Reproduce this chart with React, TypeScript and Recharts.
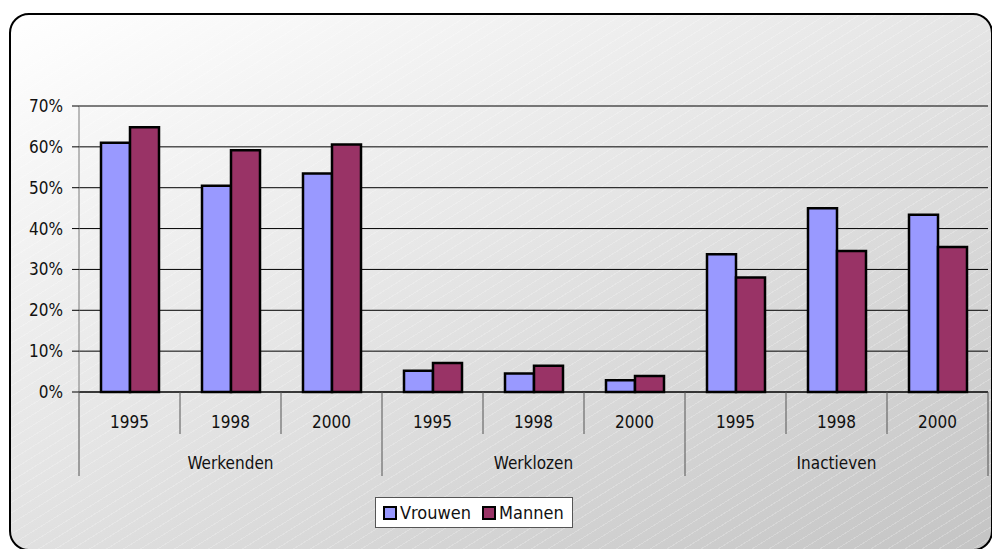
import { BarChart, Bar, XAxis, YAxis, CartesianGrid, Legend } from "recharts";

const groups = ["Werkenden", "Werklozen", "Inactieven"];
const years = ["1995", "1998", "2000"];
const vrouwen = [61.0, 50.5, 53.5, 5.2, 4.5, 2.9, 33.7, 45.0, 43.4];
const mannen = [64.8, 59.2, 60.6, 7.1, 6.4, 3.9, 28.0, 34.5, 35.5];
const yTicks = [0, 10, 20, 30, 40, 50, 60, 70];

const data = vrouwen.map((v, i) => ({
    group: groups[Math.floor(i / years.length)],
    year: years[i % years.length],
    Vrouwen: v,
    Mannen: mannen[i],
}));

const FONT = '"DejaVu Sans Condensed", "Open Sans", sans-serif';
const BLUE = "#9999ff";
const PURPLE = "#993366";

function CategoryTick(props: any) {
    const { x, y, payload } = props;
    const i: number = payload.index ?? props.index;
    const half: number = payload.offset || 50.5;
    const row = data[i];
    const first = i % years.length === 0;
    const last = i === data.length - 1;
    return (
        <g>
            <line x1={x - half} x2={x - half} y1={y} y2={y + (first ? 84 : 42)} stroke="#555" />
            {last && <line x1={x + half} x2={x + half} y1={y} y2={y + 84} stroke="#555" />}
            <text x={x} y={y + 36} textAnchor="middle" fontSize={17} fontFamily={FONT} fill="#111">
                {payload.value}
            </text>
            {i % years.length === 1 && (
                <text x={x} y={y + 77} textAnchor="middle" fontSize={17} fontFamily={FONT} fill="#111">
                    {row.group}
                </text>
            )}
        </g>
    );
}

function LegendBox() {
    const items = [
        { name: "Vrouwen", color: BLUE },
        { name: "Mannen", color: PURPLE },
    ];
    return (
        <div
            style={{
                display: "flex",
                alignItems: "center",
                background: "#fff",
                border: "1px solid #555",
                height: 31,
                padding: "0 8px 0 7px",
                fontFamily: FONT,
                fontSize: 18,
                color: "#111",
                boxSizing: "border-box",
            }}
        >
            {items.map((it, k) => (
                <span key={it.name} style={{ display: "flex", alignItems: "center", marginLeft: k ? 11 : 0 }}>
                    <span
                        style={{
                            width: 10,
                            height: 10,
                            background: it.color,
                            border: "2px solid #000",
                            marginRight: 3,
                            display: "inline-block",
                        }}
                    />
                    {it.name}
                </span>
            ))}
        </div>
    );
}

export default function App() {
    return (
        <div style={{ position: "absolute", left: 0, top: 0, width: 992, height: 549, overflow: "hidden", background: "#fff" }}>
            <div
                style={{
                    position: "absolute",
                    left: 9,
                    top: 13,
                    width: 980,
                    height: 534,
                    border: "2px solid #000",
                    borderRadius: 20,
                    background:
                        "repeating-linear-gradient(148deg, rgba(255,255,255,0) 0px, rgba(255,255,255,0) 8px, rgba(255,255,255,0.22) 8px, rgba(255,255,255,0.22) 9px), linear-gradient(155deg, #ffffff 0%, #e6e6e6 45%, #c4c4c4 100%)",
                }}
            />
            <div style={{ position: "absolute", left: 0, top: 0 }}>
                <BarChart
                    width={992}
                    height={549}
                    data={data}
                    margin={{ top: 106, right: 4, left: 0, bottom: 67 }}
                    barCategoryGap={22}
                    barGap={0}
                >
                    <CartesianGrid vertical={false} stroke="#000" />
                    <XAxis
                        dataKey="year"
                        height={90}
                        interval={0}
                        tickSize={0}
                        tickMargin={0}
                        tickLine={false}
                        axisLine={{ stroke: "#000" }}
                        tick={<CategoryTick />}
                    />
                    <YAxis
                        width={79}
                        domain={[0, 70]}
                        ticks={yTicks}
                        tickFormatter={(v: number) => `${v}%`}
                        tickSize={7}
                        tickMargin={9}
                        axisLine={{ stroke: "#7a7a7a" }}
                        tickLine={{ stroke: "#000" }}
                        tick={{ fontSize: 17, fontFamily: FONT, fill: "#111" }}
                    />
                    <Legend
                        layout="vertical"
                        align="center"
                        verticalAlign="middle"
                        content={<LegendBox />}
                        wrapperStyle={{ left: 375, top: 497, width: "auto" }}
                    />
                    <Bar dataKey="Vrouwen" fill={BLUE} stroke="#000" strokeWidth={2.5} isAnimationActive={false} />
                    <Bar dataKey="Mannen" fill={PURPLE} stroke="#000" strokeWidth={2.5} isAnimationActive={false} />
                </BarChart>
            </div>
        </div>
    );
}
